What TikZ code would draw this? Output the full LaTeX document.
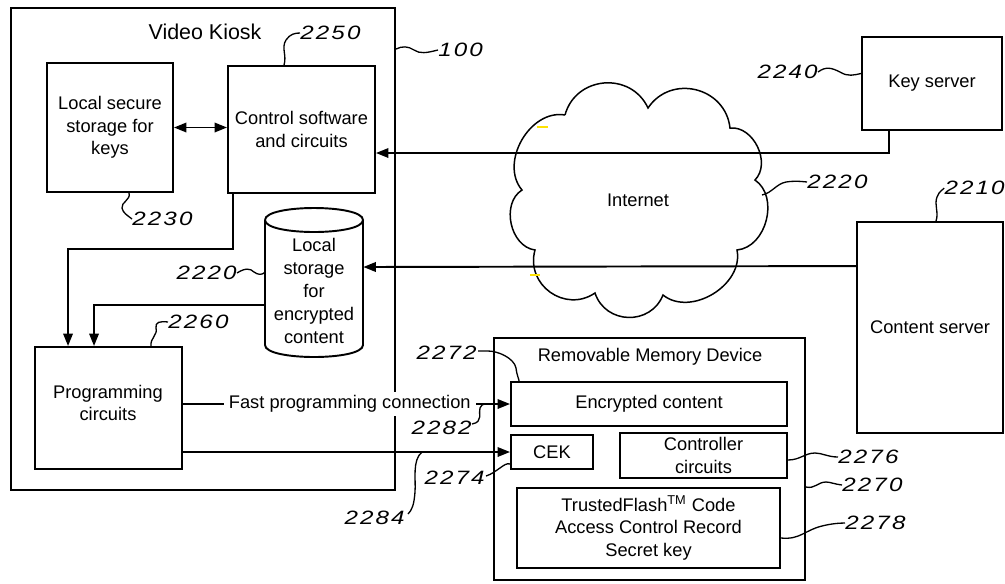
\documentclass[tikz,border=0pt]{standalone}
\usepackage{fontspec}
\setmainfont{Liberation Sans}
\newfontfamily\numfont{Liberation Sans}[FakeStretch=1.25,LetterSpace=11]
\usetikzlibrary{arrows.meta,calc}

\begin{document}
\begin{tikzpicture}[x=0.02cm,y=-0.02cm,
  every node/.style={font=\fontsize{10.4}{12.8}\selectfont, align=center, inner sep=0pt},
  box/.style={draw, line width=1.1pt},
  rect/.style args={#1/#2/#3/#4}{box,
    minimum width={(#3-#1)*0.02cm}, minimum height={(#4-#2)*0.02cm},
    at={({(#1+#3)/2},{(#2+#4)/2})}},
  conn/.style={line width=1.1pt},
  tip/.tip={Triangle[length=2.5mm,width=1.9mm]},
  arr/.style={conn, -tip},
  darr/.style={conn, tip-tip},
  leader/.style={line width=0.75pt},
  refnum/.style={font=\fontsize{11}{12}\numfont\itshape},
  bump/.style={bend left=70, looseness=1.25},
  flatbump/.style={bend left=70, looseness=1.05}]

\useasboundingbox (0,0) rectangle (1005,583);

% ---------- video kiosk ----------
\node[rect=11/8/395/490] (kiosk) {};
\node[font=\fontsize{12.2}{14}\selectfont] (kiosktitle) at (205,32) {Video Kiosk};
\node[rect=47/63/173/192] (local) {Local secure\\storage for\\keys};
\node[rect=228/66/375/193] (ctrl) {Control software\\and circuits};
\node[rect=35/347/182/469] (prog) {};
\node (progtxt) at (108,403) {Programming\\circuits};

% encrypted content store (cylinder)
\node[minimum width=98*0.02cm, minimum height=149*0.02cm] (store) at (314,282.5) {};
\draw[box] (265,220) .. controls (265,204) and (363,204) .. (363,220)
                     .. controls (363,236) and (265,236) .. (265,220);
\draw[box] (265,220) -- (265,345) .. controls (265,361) and (363,361) .. (363,345) -- (363,220);
\node[font=\fontsize{10.4}{13}\selectfont] (storetxt) at (314,291) {Local\\storage\\for\\encrypted\\content};

% ---------- removable memory device ----------
\node[rect=494/338/805/580] (rmd) {};
\node (rmdtitle) at (650,357) {Removable Memory Device};
\node[rect=511/382/787/426] (enc) {Encrypted content};
\node[rect=511/435/593/469] (cek) {CEK};
\node[rect=620/433/787/478] (cc) {Controller\\circuits};
\node[rect=517/488/780/568] (tf) {TrustedFlash\textsuperscript{TM} Code\\Access Control Record\\Secret key};

% ---------- servers ----------
\node[rect=862/37/1002/130] (ks) {Key server};
\node[rect=857/222/1003/433] (cs) {Content server};

% ---------- internet cloud ----------
\draw[line width=0.85pt] (565,115) to[bump] (648,108) to[bump] (730,128)
  to[flatbump] (755,180) to[flatbump] (737,250) to[flatbump] (663,295)
  to[bump] (595,293) to[bump] (535,250) to[flatbump] (522,190)
  to[flatbump] (565,115);
\node (inet) at (638,200) {Internet};
\coordinate (cloudR) at (762,195);

% highlighter marks on the cloud
\draw[yellow!85!orange, line width=0.045cm] (537,127) -- (548,127);
\draw[yellow!85!orange, line width=0.045cm] (530,275) -- (540,275);

% ---------- connectors ----------
\draw[darr] (local.east) -- (ctrl.west |- local.east);
\draw[arr] ($(ks.south west)+(28,0)$) |- ($(ctrl.east)+(0,23.5)$);
\draw[arr] ($(cs.north west)+(0,45)$) -- ($(store.east)+(0,-15.5)$);
\draw[arr] ($(ctrl.south west)+(6,0)$) -- ++(0,55) -| ($(prog.north west)+(34,0)$);
\draw[arr] ($(store.west)+(0,22.5)$) -| ($(prog.north west)+(60,0)$);
\draw[arr] (prog.east |- enc.west) -- node[pos=0.51, fill=white, inner xsep=0.1cm, inner ysep=2pt] (fastlbl) {Fast programming connection} (enc.west);
\draw[arr] (prog.east |- cek.west) -- (cek.west);

% ---------- reference numerals ----------
\node[refnum, anchor=west] (n2250) at (300,33) {2250};
\draw[leader] ($(ctrl.north west)+(57,0)$) .. controls (287,55) and (281,48) .. (286,40)
  .. controls (290,34) and (295,33) .. (n2250.west);

\node[refnum, anchor=west] (n2230) at (132,219) {2230};
\draw[leader] ($(local.south west)+(83,0)$) .. controls (131,200) and (121,202) .. (122,208)
  .. controls (123,213) and (127,215) .. (n2230.west);

\node[refnum, anchor=west] (n100) at (438,50) {100};
\draw[leader] ($(kiosk.north east)+(0,42)$) .. controls (402,46) and (408,46) .. (414,50)
  .. controls (420,54) and (426,53) .. (n100.west);

\node[refnum, anchor=east] (n2220a) at (237,273) {2220};
\draw[leader] (n2220a.east) .. controls (245,268) and (250,268) .. (254,272)
  .. controls (258,275) and (262,275) .. ($(store.west)+(0,-10)$);

\node[refnum, anchor=west] (n2260) at (168,322) {2260};
\draw[leader] ($(prog.north west)+(117,0)$) .. controls (150,338) and (158,335) .. (156,328)
  .. controls (155,322) and (160,321) .. (n2260.west);

\node[refnum, anchor=east] (n2282) at (472,428) {2282};
\draw[leader] ($(n2282.east)+(0,-4)$) .. controls (484,422) and (478,412) .. (480,408)
  .. controls (481,405) and (483,404) .. (485,404);

\node[refnum, anchor=east] (n2284) at (405,518) {2284};
\draw[leader] (422,452) .. controls (412,460) and (416,480) .. (415,492)
  .. controls (414,505) and (412,510) .. ($(n2284.east)+(3,-4)$);

\node[refnum, anchor=east] (n2274) at (485,478) {2274};
\draw[leader] ($(n2274.east)+(1,-2)$) .. controls (492,474) and (494,472) .. (500,468)
  .. controls (504,465) and (507,463) .. ($(cek.south west)+(0,-6)$);

\node[refnum, anchor=east] (n2272) at (477,353) {2272};
\draw[leader] ($(n2272.east)+(1,-2)$) -- (488,351) .. controls (498,351) and (514,358) .. (516,368)
  .. controls (517,376) and (519,379) .. ($(enc.north west)+(9,0)$);

\node[refnum, anchor=west] (n2276) at (838,457) {2276};
\draw[leader] ($(cc.east)+(0,4.5)$) .. controls (800,460) and (805,453) .. (815,453)
  .. controls (822,453) and (828,457) .. (n2276.west);

\node[refnum, anchor=west] (n2270) at (842,485) {2270};
\draw[leader] ($(rmd.north east)+(0,150)$) .. controls (815,489) and (818,482) .. (826,482)
  .. controls (830,482) and (834,484) .. (n2270.west);

\node[refnum, anchor=west] (n2278) at (845,523) {2278};
\draw[leader] ($(tf.east)+(0,10)$) .. controls (800,540) and (805,530) .. (822,526)
  .. controls (830,524) and (838,523) .. (n2278.west);

\node[refnum, anchor=east] (n2240) at (818,72) {2240};
\draw[leader] (n2240.east) .. controls (826,66) and (832,68) .. (840,72)
  .. controls (848,77) and (854,75) .. ($(ks.west)+(0,-10)$);

\node[refnum, anchor=west] (n2220b) at (807,182) {2220};
\draw[leader] (cloudR) .. controls (772,193) and (776,184) .. (786,182)
  .. controls (792,181) and (798,181) .. (n2220b.west);

\node[refnum, anchor=east] (n2210) at (1005,188) {2210};
\draw[leader] ($(cs.north west)+(80,0)$) .. controls (939,212) and (934,205) .. (937,197)
  .. controls (939,191) and (944,189) .. (n2210.west);

\end{tikzpicture}
\end{document}
